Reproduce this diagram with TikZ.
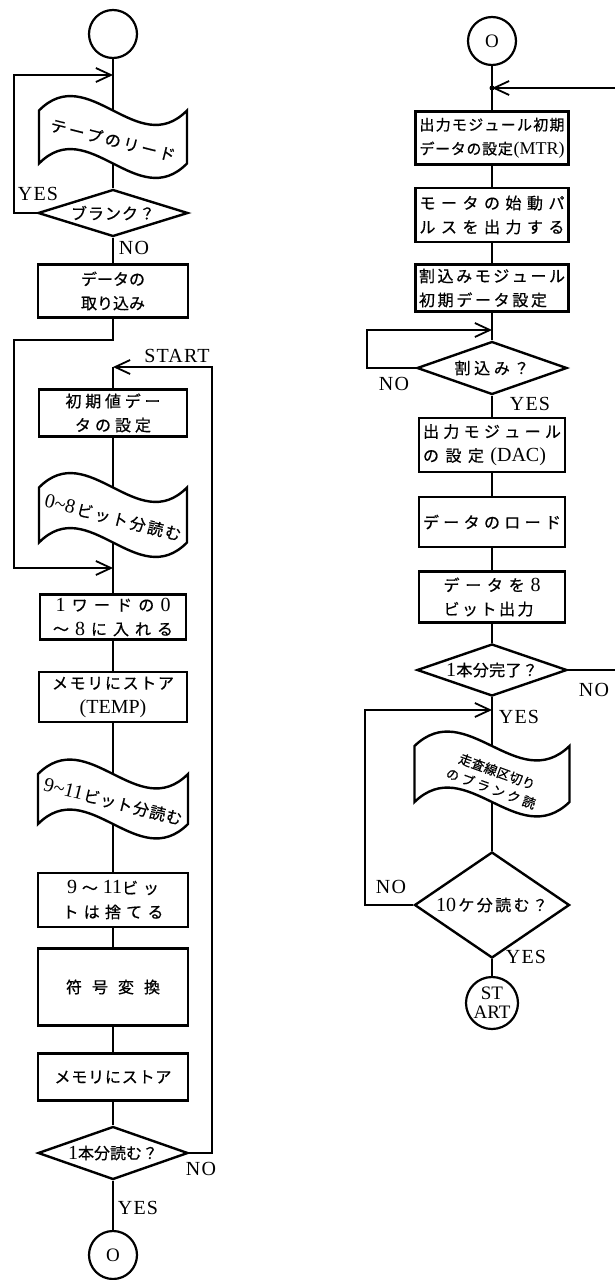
\documentclass[tikz,border=0pt]{standalone}
\usepackage{fontspec}
\setmainfont{Liberation Serif}
\newfontfamily\jp[FakeBold=0.6]{Noto Sans CJK JP}
\newfontfamily\latf{Liberation Serif}
\newfontfamily\labf[LetterSpace=6]{Liberation Serif}
\usetikzlibrary{shapes.geometric,arrows.meta,calc}
\newcommand\lt[1]{{\latf\fontsize{20}{20}\selectfont #1}}
\def\sprfirst#1{#1\sprrest}
\def\sprrest#1{\ifx\relax#1\else\hfil#1\expandafter\sprrest\fi}
\newcommand\spr[2]{\makebox[#1pt][s]{\sprfirst#2\relax}}
\newcommand\jpfs{\fontsize{16}{24}\selectfont\jp}
\tikzset{
  shapeline/.style={line width=2.4pt, line join=miter},
  box/.style={draw, shapeline, rectangle, minimum height=50, inner sep=1pt, align=center, font=\jpfs},
  dia/.style={draw, shapeline, diamond, inner sep=0pt, align=center, font=\jpfs},
  circ/.style={draw, circle, line width=2.2pt, minimum size=48, inner sep=0pt, font=\fontsize{19}{19}\selectfont\latf, align=center},
  conn/.style={line width=1.8pt},
  arr/.style={conn, -{Straight Barb[length=15pt,width=14pt]}},
  lab/.style={font=\fontsize{20}{20}\selectfont\labf, inner sep=0pt},
  tapetext/.style={font=\jpfs, inner sep=0pt, align=center},
}
\newcommand{\tapeat}[5]{%
  \pgfmathsetmacro\tpL{#2-#4/2}%
  \pgfmathsetmacro\tpR{#2+#4/2}%
  \pgfmathsetmacro\tpA{#2-#4/6}%
  \pgfmathsetmacro\tpB{#2+#4/6}%
  \pgfmathsetmacro\tpT{#3-#5/2}%
  \pgfmathsetmacro\tpD{#3+#5/2}%
  \pgfmathsetmacro\tpTu{\tpT-50}%
  \pgfmathsetmacro\tpTd{\tpT+50}%
  \pgfmathsetmacro\tpDu{\tpD-50}%
  \pgfmathsetmacro\tpDd{\tpD+50}%
  \draw[shapeline] (\tpL,\tpT) .. controls (\tpA,\tpTu) and (\tpB,\tpTd) .. (\tpR,\tpT) -- (\tpR,\tpD) .. controls (\tpB,\tpDd) and (\tpA,\tpDu) .. (\tpL,\tpD) -- cycle;
  \coordinate (#1n) at (#2,\tpT);
  \coordinate (#1s) at (#2,\tpD);
}
\begin{document}
\begin{tikzpicture}[x=1pt,y=-1pt]
\fill[white] (0,0) rectangle (615,1280);
\useasboundingbox (0,0) rectangle (615,1280);

% ---------- left column ----------
\node[circ] (c1) at (113,34) {};
\tapeat{t1}{113}{137}{148}{53}
\node[tapetext, rotate=-14] (t1) at (113,140) {\spr{128}{テ ー プ の リ ー ド}};
\node[dia, minimum width=150, minimum height=47, aspect=3.2] (d1) at (113,213) {\spr{84}{ブ ラ ン ク ？}};
\node[box, minimum width=150, minimum height=53] (b1) at (113,291) {データの\\取り込み};
\node[box, minimum width=148, minimum height=47] (b2) at (113,413) {\spr{95}{初 期 値 デ ー}\\\spr{76}{タ の 設 定}};
\tapeat{t2}{113}{515}{148}{55}
\node[tapetext, rotate=-14] (t2) at (113,518) {\spr{140}{{\lt{0\textasciitilde8}} ビ ッ ト 分 読 む}};
\node[box, minimum width=146, minimum height=45] (b3) at (113,617) {\spr{115}{{\lt{1}} ワ ー ド の {\lt{0}}}\\\spr{120}{〜 {\lt{8}} に 入 れ る}};
\node[box, minimum width=148, minimum height=50] (b4) at (113,697) {\spr{122}{メ モ リ に ス ト ア}\\\lt{(TEMP)}};
\tapeat{t3}{113}{799}{150}{50}
\node[tapetext, rotate=-14] (t3) at (113,802) {\spr{142}{{\lt{9\textasciitilde11}} ビ ッ ト 分 読 む}};
\node[box, minimum width=150, minimum height=54] (b5) at (113,900) {\spr{92}{{\lt{9}} 〜 {\lt{11}ビ} ッ}\\\spr{101}{ト は 捨 て る}};
\node[box, minimum width=150, minimum height=77] (b6) at (113,987) {\spr{94}{符 号 変 換}};
\node[box, minimum width=150, minimum height=47] (b7) at (113,1077) {\spr{117}{メ モ リ に ス ト ア}};
\node[dia, minimum width=150, minimum height=53, aspect=2.8] (d2) at (113,1153) {\spr{90}{{\lt{1}} 本 分 読 む ？}};
\node[circ] (c2) at (113,1255) {O};

\coordinate (j1) at (113,75);
\coordinate (lx) at (14,0);
\coordinate (k1) at (113,340);
\coordinate (j2) at (113,568);
\coordinate (j3) at (113,367);
\coordinate (rx) at (212,0);

\node[lab] (yes1) at (38,194) {YES};
\node[lab] (no1) at (134,248) {NO};
\node[lab] (start) at (177,356) {START};
\node[lab] (no2) at (201,1169) {NO};
\node[lab] (yes2) at (138,1208) {YES};

\draw[conn] (c1.south) -- (t1n);
\draw[arr] (d1.west) -| (lx |- j1) -- (j1);
\draw[conn] (t1s) -- (d1.north);
\draw[conn] (d1.south) -- (b1.north);
\draw[arr] (b1.south) -- (k1) -| (lx |- j2) -- (j2);
\draw[arr] (d2.east) -| (rx |- j3) -- (j3);
\draw[conn] (j3) -- (b2.north);
\draw[conn] (b2.south) -- (t2n);
\draw[conn] (t2s) -- (b3.north);
\draw[conn] (b3.south) -- (b4.north);
\draw[conn] (b4.south) -- (t3n);
\draw[conn] (t3s) -- (b5.north);
\draw[conn] (b5.south) -- (b6.north);
\draw[conn] (b6.south) -- (b7.north);
\draw[conn] (b7.south) -- (d2.north);
\draw[conn] (d2.south) -- (c2.north);

% ---------- right column ----------
\node[circ] (c3) at (492,41) {O};
\coordinate (j4) at (492,88);
\coordinate (r1) at (615,88);
\node[box, minimum width=153, minimum height=53, font=\fontsize{15}{24}\selectfont\jp] (b8) at (492,138) {\spr{145}{出 力 モ ジ ュ ー ル 初 期}\\\spr{145}{デ ー タ の 設 定 {\latf\fontsize{18}{20}\selectfont(MTR)}}};
\node[box, minimum width=153, minimum height=54] (b9) at (492,215) {\spr{145}{モ ー タ の 始 動 パ}\\\spr{145}{ル ス を 出 力 す る}};
\node[box, minimum width=153, minimum height=47] (b10) at (492,288) {\spr{146}{割 込 み モ ジ ュ ー ル}\\\makebox[146pt][l]{\spr{128}{初 期 デ ー タ 設 定}}};
\coordinate (j5) at (492,330);
\coordinate (lx2) at (367,0);
\node[dia, minimum width=150, minimum height=53, aspect=2.8] (d3) at (492,368) {\spr{75}{割 込 み ？}};
\node[box, minimum width=146, minimum height=54] (b11) at (492,445) {\spr{138}{出 力 モ ジ ュ ー ル}\\\makebox[138pt][l]{\spr{123}{の 設 定 {\lt{(DAC)}}}}};
\node[box, minimum width=146, minimum height=50] (b12) at (492,522) {\spr{138}{デ ー タ の ロ ー ド}};
\node[box, minimum width=146, minimum height=51] (b13) at (492,597) {\spr{97}{デ ー タ を {\lt{8}}}\\\makebox[97pt][l]{\spr{90}{ビ ッ ト 出 力}}};
\node[dia, minimum width=150, minimum height=52, aspect=2.9] (d4) at (492,670) {\spr{92}{{\lt{1}} 本 分 完 了 ？}};
\coordinate (r2) at (615,670);
\coordinate (j6) at (492,710);
\coordinate (lx3) at (365,0);
\tapeat{t4}{492}{774}{155}{56}
\node[tapetext, rotate=-20, font=\fontsize{13}{18}\selectfont\jp] (t4) at (494,780) {\spr{80}{走 査 線 区 切 り}\\\spr{94}{の ブ ラ ン ク 読}};
\node[dia, minimum width=155, minimum height=106, aspect=1.46] (d5) at (492,905) {\spr{112}{{\lt{10}} ケ 分 読 む ？}};
\node[circ, minimum size=52, font=\fontsize{19}{19}\selectfont\latf] (c4) at (492,1003) {ST\\ART};

\node[lab] (no3) at (394,384) {NO};
\node[lab] (yes3) at (530,404) {YES};
\node[lab] (no4) at (594,690) {NO};
\node[lab] (yes4) at (519,717) {YES};
\node[lab] (no5) at (391,887) {NO};
\node[lab] (yes5) at (526,957) {YES};

\draw[conn] (c3.south) -- (b8.north);
\fill (j4) circle (2.5);
\draw[arr] (r1) -- (j4);
\draw[conn] (b8.south) -- (b9.north);
\draw[conn] (b9.south) -- (b10.north);
\draw[conn] (b10.south) -- (d3.north);
\draw[arr] (d3.west) -| (lx2 |- j5) -- (j5);
\draw[conn] (d3.south) -- (b11.north);
\draw[conn] (b11.south) -- (b12.north);
\draw[conn] (b12.south) -- (b13.north);
\draw[conn] (b13.south) -- (d4.north);
\draw[conn] (d4.east) -- (r2);
\draw[conn] (d4.south) -- (t4n);
\draw[arr] (d5.west) -| (lx3 |- j6) -- (j6);
\draw[conn] (t4s) -- (d5.north);
\draw[conn] (d5.south) -- (c4.north);
\end{tikzpicture}
\end{document}
